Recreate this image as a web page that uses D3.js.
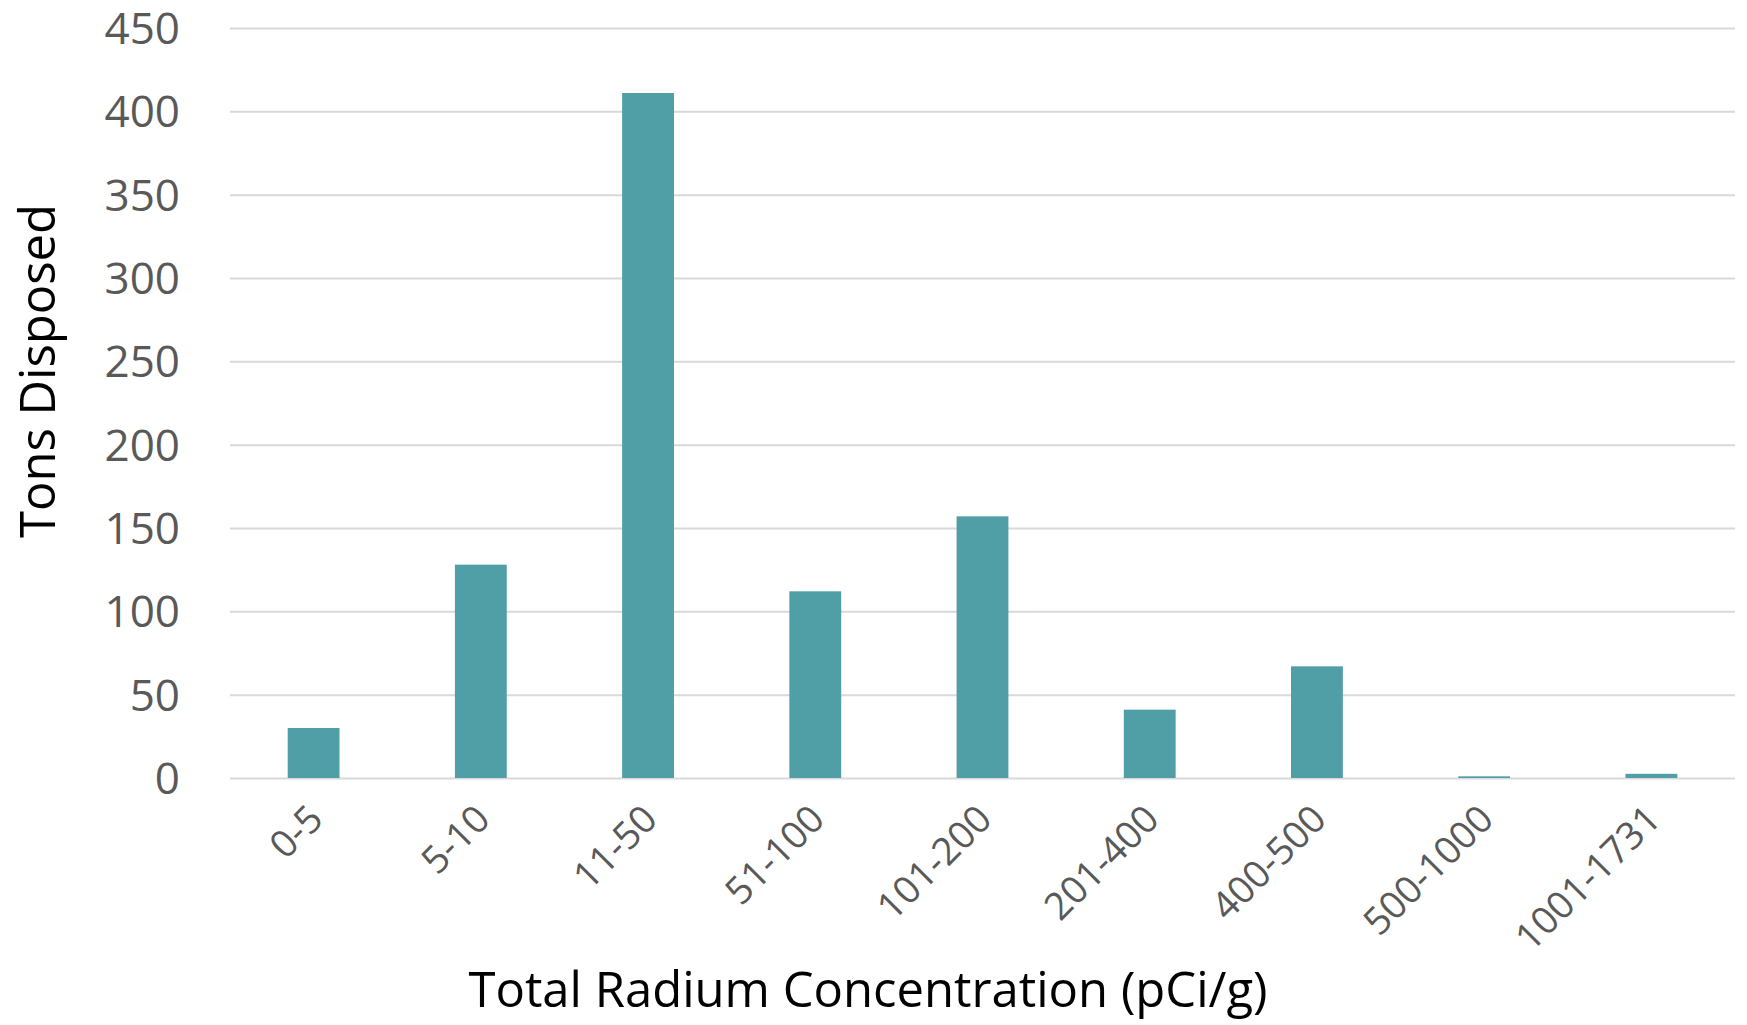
<!DOCTYPE html>
<html lang="en">
<head>
<meta charset="utf-8">
<title>Tons Disposed by Radium Concentration</title>
<style>
  body { margin: 0; background: #fff; }
  svg { display: block; font-family: "Open Sans", sans-serif; }
  .grid line { stroke: #d9d9d9; stroke-width: 2; }
  .grid path { display: none; }
</style>
</head>
<body>
<script src="https://d3js.org/d3.v7.min.js"></script>
<script>
  const categories = ["0-5", "5-10", "11-50", "51-100", "101-200", "201-400", "400-500", "500-1000", "1001-1731"];
  const tons = [30, 128, 411, 112, 157, 41, 67, 1, 2.5];
  const yTicks = [0, 50, 100, 150, 200, 250, 300, 350, 400, 450];

  const width = 1747, height = 1025;
  const plotLeft = 230, plotRight = 1735, plotTop = 28, plotBottom = 778;

  const svg = d3.select("body").append("svg")
      .attr("width", width)
      .attr("height", height);

  const x = d3.scaleBand()
      .domain(categories)
      .range([plotLeft, plotRight])
      .paddingInner(0.69)
      .paddingOuter(0.345);

  const y = d3.scaleLinear()
      .domain([0, 450])
      .range([plotBottom, plotTop]);

  // gridlines
  svg.append("g")
      .attr("class", "grid")
      .attr("transform", "translate(" + plotLeft + ",0)")
      .call(d3.axisLeft(y).tickValues(yTicks).tickSize(-(plotRight - plotLeft)).tickFormat(""));

  // bars
  svg.selectAll("rect.bar")
      .data(tons)
      .enter()
      .append("rect")
      .attr("class", "bar")
      .attr("x", (d, i) => x(categories[i]))
      .attr("y", d => y(d))
      .attr("width", x.bandwidth())
      .attr("height", d => plotBottom - y(d))
      .attr("fill", "#509fa7");

  // y tick labels
  svg.append("g")
      .selectAll("text")
      .data(yTicks)
      .enter()
      .append("text")
      .attr("x", 180)
      .attr("y", d => y(d))
      .attr("dy", "0.36em")
      .attr("text-anchor", "end")
      .attr("font-size", 44)
      .attr("fill", "#595959")
      .text(d => d);

  // x tick labels, rotated
  svg.append("g")
      .selectAll("text")
      .data(categories)
      .enter()
      .append("text")
      .attr("transform", d => "translate(" + (x(d) + x.bandwidth() / 2 + 2) + "," + 812 + ")rotate(-45)")
      .attr("text-anchor", "end")
      .attr("dy", "0.35em")
      .attr("font-size", 38)
      .attr("fill", "#595959")
      .text(d => d);

  // axis titles
  svg.append("text")
      .attr("transform", "translate(38,371)rotate(-90)")
      .attr("text-anchor", "middle")
      .attr("dy", "0.35em")
      .attr("font-size", 49)
      .attr("fill", "#000")
      .text("Tons Disposed");

  svg.append("text")
      .attr("x", 868)
      .attr("y", 990)
      .attr("text-anchor", "middle")
      .attr("dy", "0.35em")
      .attr("font-size", 49)
      .attr("fill", "#000")
      .text("Total Radium Concentration (pCi/g)");
</script>
</body>
</html>
